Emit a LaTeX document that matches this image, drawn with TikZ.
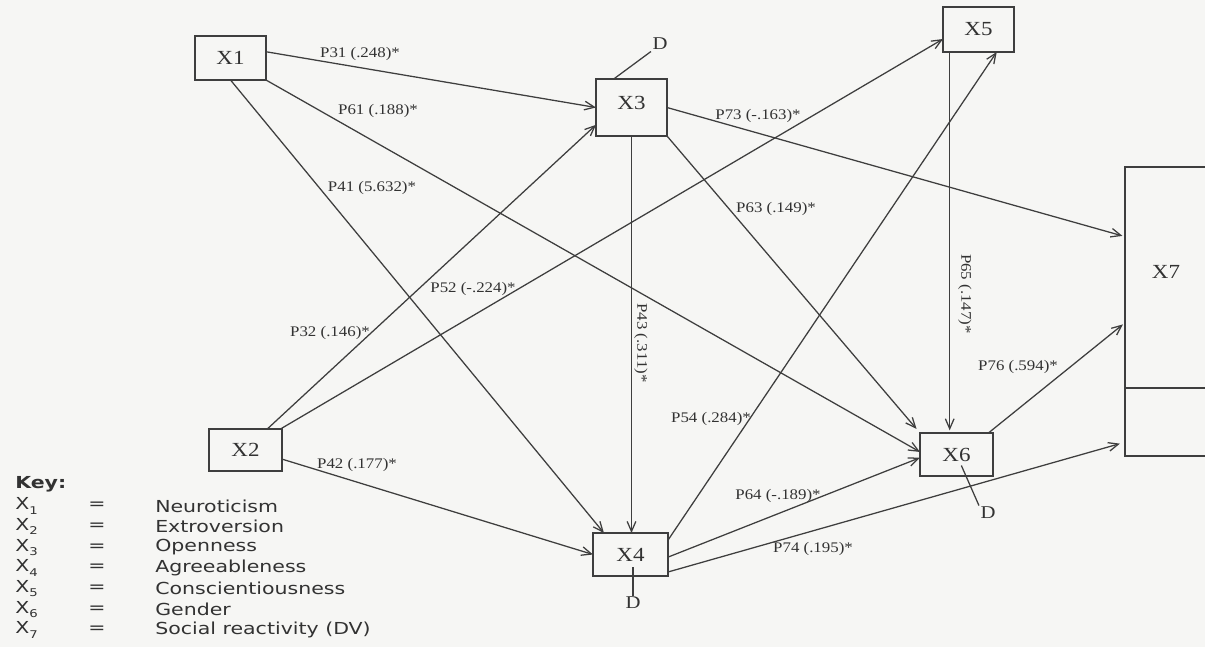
\documentclass[tikz,border=0pt]{standalone}
\usepackage{fontspec}
\setmainfont{Liberation Serif}[FakeStretch=1.15]
\newfontfamily\keyfont{DejaVu Sans}[FakeStretch=1.24]
\usetikzlibrary{arrows.meta,calc}
\definecolor{bg}{RGB}{246,246,244}
\definecolor{ink}{RGB}{62,62,62}
\definecolor{txt}{RGB}{50,50,50}
\begin{document}
\begin{tikzpicture}[x=0.75pt,y=-0.75pt,
  box/.style={draw=ink, line width=1.1pt, inner sep=0pt, outer sep=0pt, font=\fontsize{15}{15}\selectfont, text=txt},
  conn/.style={draw=ink, line width=0.95pt, -{Straight Barb[length=7.5pt,width=6.5pt,line width=0.95pt]}},
  dline/.style={draw=ink, line width=0.95pt},
  plab/.style={font=\fontsize{11}{11}\selectfont, text=txt, inner sep=0pt},
  dlab/.style={font=\fontsize{13.5}{13.5}\selectfont, text=txt, inner sep=1pt},
  keytxt/.style={font=\keyfont\fontsize{12.4}{12.4}\selectfont, text=txt, inner sep=0pt, anchor=west},
]
\fill[bg] (0,0) rectangle (1205,647);
\useasboundingbox (0,0) rectangle (1205,647);

% boxes
\node[box, minimum width=53.25pt, minimum height=33pt]    (X1) at (230.5,58)   {X1};
\node[box, minimum width=54.75pt, minimum height=31.5pt]  (X2) at (245.5,450)  {X2};
\node[box, minimum width=53.25pt, minimum height=42.75pt] (X3) at (631.5,107.5) {\raisebox{7.5pt}{X3}};
\node[box, minimum width=56.25pt, minimum height=32.25pt] (X4) at (630.5,554.5) {X4};
\node[box, minimum width=53.25pt, minimum height=33.75pt] (X5) at (978.5,29.5) {X5};
\node[box, minimum width=54.75pt, minimum height=32.25pt] (X6) at (956.5,454.5) {X6};
\node[box, minimum width=67.5pt, minimum height=216.75pt] (X7) at (1170,311.5) {};
\node[text=txt, font=\fontsize{15}{15}\selectfont, inner sep=0pt] (X7t) at (1166,272) {X7};
\coordinate (div) at (1125,388);
\draw[dline, line width=1.1pt] (div) -- (div -| X7.east);

% connectors
\draw[conn] (X1.10) -- (X3.west);
\draw[conn] (X1.south east) -- (X6.176);
\draw[conn] (X1.south) -- (X4.141);
\draw[conn] (X2.44) -- (X3.206);
\draw[conn] (X2.31) -- (X5.195);
\draw[conn] (X2.-14) -- (X4.west);
\draw[conn] (X3.south) -- (X3.south |- X4.north);
\draw[conn, shorten >=4pt] (X3.south east) -- (X6.north west);
\draw[conn, shorten >=2pt] (X3.east) -- (X7.121);
\draw[conn] (X4.21) -- (X5.-51);
\draw[conn] (X4.-4) -- (X6.185);
\draw[conn, shorten >=4pt] (X4.-25) -- (X7.251);
\draw[conn, shorten >=2pt] (X5.218) -- (X5.218 |- X6.north);
\draw[conn, shorten >=2pt] (X6.34) -- (X7.194);

% disturbance terms
\node[dlab] (d3) at (660,44) {D};
\node[dlab] (d4) at (633,603) {D};
\node[dlab] (d6) at (988,513) {D};
\draw[dline] (X3.122) -- (d3.south west);
\draw[dline, shorten >=9pt] (d4.north) -- (d4.north |- X4.center);
\draw[dline, shorten >=9pt] (d6.north west) -- (X6.center);

% path labels
\node[plab] (p31) at (360,54)  {P31 (.248)*};
\node[plab] (p61) at (378,111) {P61 (.188)*};
\node[plab] (p41) at (372,188) {P41 (5.632)*};
\node[plab] (p32) at (330,333) {P32 (.146)*};
\node[plab] (p52) at (473,289) {P52 (-.224)*};
\node[plab] (p42) at (357,465) {P42 (.177)*};
\node[plab, rotate=-90] (p43) at (641,343) {P43 (.311)*};
\node[plab] (p63) at (776,209) {P63 (.149)*};
\node[plab] (p73) at (758,116) {P73 (-.163)*};
\node[plab] (p54) at (711,419) {P54 (.284)*};
\node[plab] (p64) at (778,496) {P64 (-.189)*};
\node[plab] (p74) at (813,549) {P74 (.195)*};
\node[plab, rotate=-90] (p65) at (965,294) {P65 (.147)*};
\node[plab] (p76) at (1018,367) {P76 (.594)*};

% key
\node[keytxt, font=\keyfont\bfseries\fontsize{12.4}{12.4}\selectfont] (key) at (15,484) {Key:};
\foreach \i/\d in {1/Neuroticism,2/Extroversion,3/Openness,4/Agreeableness,5/Conscientiousness,6/Gender,7/Social reactivity (DV)}{
  \node[keytxt] (kx\i) at (15,{485.3+20.67*\i}) {X\raisebox{-0.25em}{\fontsize{8}{8}\selectfont\i}};
  \node[keytxt, anchor=center] (ke\i) at (97,{485.3+20.67*\i}) {=};
  \node[keytxt] (kd\i) at (155,{485.3+20.67*\i}) {\d};
}
\end{tikzpicture}
\end{document}
